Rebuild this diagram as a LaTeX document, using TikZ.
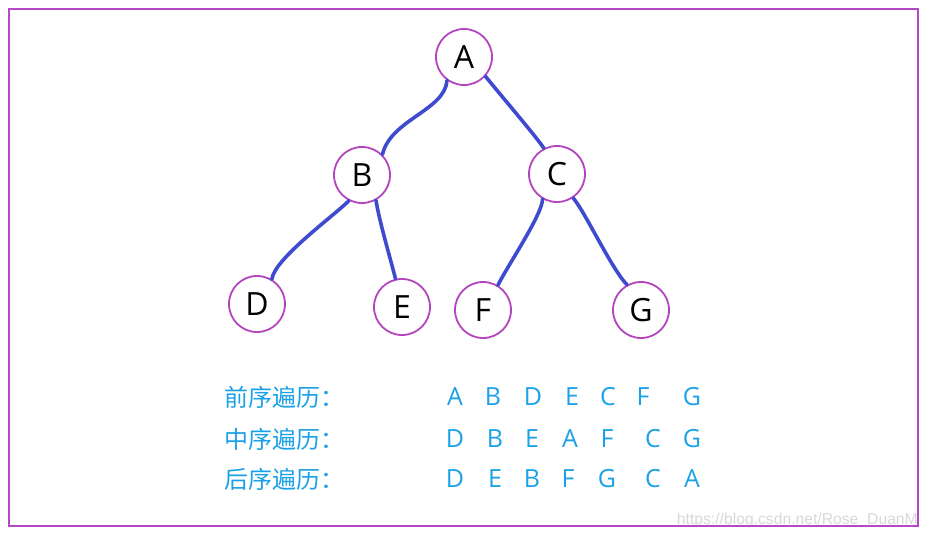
\documentclass[tikz,border=0pt]{standalone}
\usepackage{fontspec}
\setmainfont{Open Sans}
\newfontfamily\cjk{Noto Sans CJK SC}
\newfontfamily\wmfont{Liberation Sans}
\definecolor{framec}{HTML}{B548C6}
\definecolor{nodec}{HTML}{B444BE}
\definecolor{edgec}{HTML}{3F4BCF}
\definecolor{txtc}{HTML}{1BA1E6}
\definecolor{wmc}{HTML}{D8D8D8}
\begin{document}
\begin{tikzpicture}[x=1pt,y=-1pt,
  tnode/.style={circle,draw=nodec,line width=1.8pt,minimum size=56pt,inner sep=0pt,
    font=\fontsize{32}{32}\selectfont},
  edge/.style={draw=edgec,line width=3.6pt,line cap=round},
  lab/.style={anchor=west,inner sep=0pt,text=txtc,font=\cjk\fontsize{24}{24}\selectfont},
  let/.style={inner sep=0pt,text=txtc,font=\fontsize{25}{25}\selectfont}]
\useasboundingbox (0,0) rectangle (929,539);
\node[anchor=east,inner sep=0pt,text=wmc,font=\wmfont\fontsize{15.7}{15.7}\selectfont] (wm) at (918,520) {https://blog.csdn.net/Rose\_DuanM};
\draw[framec,line width=2.5pt] (9,9) rectangle (918,526);
\node[tnode] (A) at (464,57) {A};
\node[tnode] (B) at (362,175) {B};
\node[tnode] (C) at (557,174) {C};
\node[tnode] (D) at (257,304) {D};
\node[tnode] (E) at (402,307) {E};
\node[tnode] (F) at (483,310) {F};
\node[tnode] (G) at (641,310) {G};
\draw[edge] (A.234) .. controls +(-2,30) and +(8,-35) .. (B.45);
\draw[edge] (A.318) .. controls +(12,15) and +(-8,-12) .. (C.117);
\draw[edge] (B.243) .. controls +(-15,15) and +(2,-20) .. (D.59);
\draw[edge] (B.299) .. controls +(3,20) and +(-5,-20) .. (E.103);
\draw[edge] (C.240) .. controls +(0,15) and +(10,-20) .. (F.59);
\draw[edge] (C.304) .. controls +(12,14) and +(-15,-15) .. (G.119);
\node[lab] (l1) at (224,397) {前序遍历：};
\node[lab] (l2) at (224,439) {中序遍历：};
\node[lab] (l3) at (224,479) {后序遍历：};
\foreach \t/\x [count=\i] in {A/455,B/493,D/533,E/572,C/608,F/643,G/692}
  \node[let] (r1\i) at (\x,397) {\t};
\foreach \t/\x [count=\i] in {D/455,B/495,E/532,A/570,F/607,C/653,G/692}
  \node[let] (r2\i) at (\x,439) {\t};
\foreach \t/\x [count=\i] in {D/455,E/495,B/532,F/568,G/607,C/653,A/692}
  \node[let] (r3\i) at (\x,479) {\t};
\end{tikzpicture}
\end{document}
